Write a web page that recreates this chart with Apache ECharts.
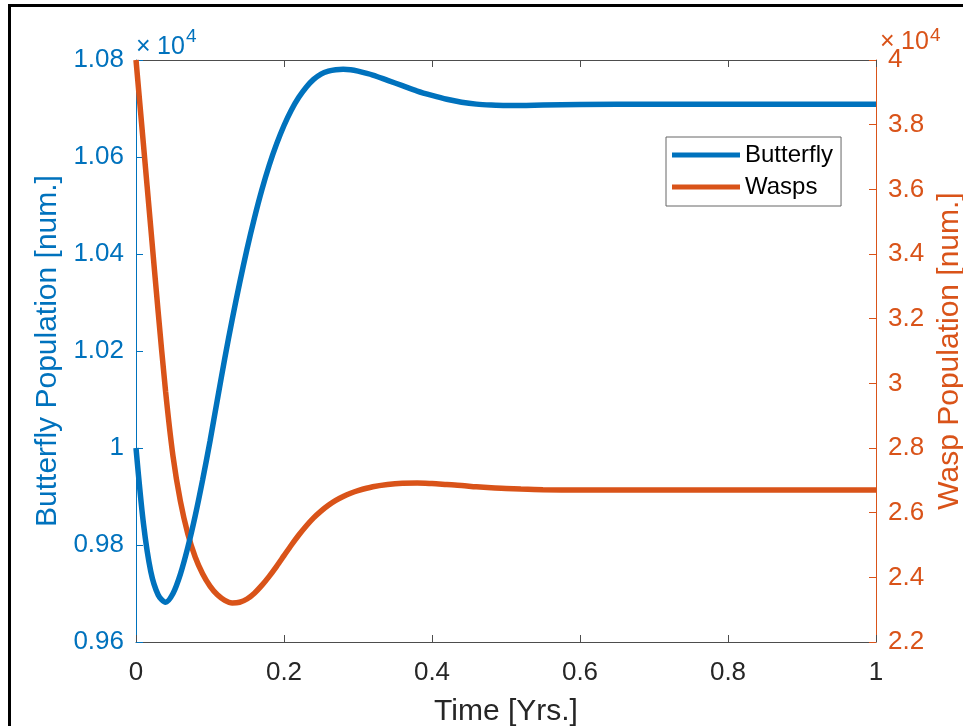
<!DOCTYPE html>
<html>
<head>
<meta charset="utf-8">
<script src="https://cdn.jsdelivr.net/npm/echarts@6/dist/echarts.min.js"></script>
<style>
    html, body { margin: 0; padding: 0; background: #fff; }
    #chart { width: 963px; height: 726px; }
</style>
</head>
<body>
<div id="chart"></div>
<script>
var timeYrs = [0, 0.01, 0.02, 0.03, 0.04, 0.05, 0.06, 0.07, 0.08, 0.09,
    0.10, 0.11, 0.12, 0.13, 0.14, 0.15, 0.16, 0.17, 0.18, 0.19,
    0.20, 0.21, 0.22, 0.23, 0.24, 0.25, 0.26, 0.27, 0.28, 0.29,
    0.30, 0.32, 0.34, 0.36, 0.38, 0.40, 0.42, 0.44, 0.46, 0.48,
    0.50, 0.52, 0.55, 0.60, 0.70, 0.80, 0.90, 1.00];
// x10^4
var butterfly = [1.0000, 0.9845, 0.9745, 0.9697, 0.9682, 0.9700, 0.9740, 0.9795, 0.9860, 0.9934,
    1.0014, 1.0100, 1.0185, 1.0265, 1.0340, 1.0410, 1.0474, 1.0532, 1.0583, 1.0627,
    1.0665, 1.0697, 1.0723, 1.0744, 1.0760, 1.0771, 1.0777, 1.0780, 1.0781, 1.0780,
    1.0777, 1.0769, 1.0758, 1.0747, 1.0736, 1.0727, 1.0719, 1.0713, 1.0709, 1.0707,
    1.0706, 1.0706, 1.0707, 1.0708, 1.0709, 1.0709, 1.0709, 1.0709];
var wasps = [4.000, 3.740, 3.480, 3.220, 2.975, 2.775, 2.635, 2.535, 2.463, 2.411,
    2.373, 2.346, 2.329, 2.321, 2.323, 2.333, 2.351, 2.375, 2.403, 2.434,
    2.467, 2.500, 2.531, 2.559, 2.584, 2.605, 2.623, 2.638, 2.650, 2.660,
    2.668, 2.680, 2.687, 2.691, 2.692, 2.690, 2.687, 2.684, 2.680, 2.677,
    2.675, 2.673, 2.671, 2.670, 2.670, 2.670, 2.670, 2.670];
var seriesNames = ['Butterfly', 'Wasps'];

var blue = '#0072BD';
var orange = '#D95319';
var font = '"Liberation Sans", Arial, sans-serif';

function pairs(xs, ys) {
    var out = [];
    for (var i = 0; i < xs.length; i++) {
        out.push([xs[i], ys[i]]);
    }
    return out;
}

var myChart = echarts.init(document.getElementById('chart'), null, {renderer: 'canvas'});

option = {
    backgroundColor: '#fff',
    animation: false,
    textStyle: {fontFamily: font},
    grid: {left: 136, top: 60, width: 740, height: 582, outerBoundsMode: 'none', containLabel: false},
    legend: {
        orient: 'vertical',
        left: 666,
        top: 137,
        data: seriesNames,
        icon: 'rect',
        itemWidth: 68,
        itemHeight: 5,
        itemGap: 8,
        padding: [6, 8, 7, 6],
        borderColor: '#666',
        borderWidth: 1,
        backgroundColor: '#fff',
        textStyle: {fontSize: 24, color: '#000', fontFamily: font}
    },
    xAxis: [
        {
            type: 'value',
            min: 0,
            max: 1,
            interval: 0.2,
            name: 'Time [Yrs.]',
            nameLocation: 'middle',
            nameGap: 55,
            nameTextStyle: {fontSize: 30, color: '#262626', fontFamily: font},
            axisLine: {onZero: false, lineStyle: {color: '#4d4d4d', width: 1}},
            axisTick: {inside: true, length: 7, lineStyle: {color: '#4d4d4d'}},
            axisLabel: {
                fontSize: 26, color: '#262626', margin: 18, fontFamily: font,
                formatter: function (v) { return +v.toFixed(1) + ''; }
            },
            splitLine: {show: false}
        },
        {
            type: 'value',
            position: 'top',
            min: 0,
            max: 1,
            interval: 0.2,
            axisLine: {onZero: false, lineStyle: {color: '#4d4d4d', width: 1}},
            axisTick: {inside: true, length: 7, lineStyle: {color: '#4d4d4d'}},
            axisLabel: {show: false},
            splitLine: {show: false}
        }
    ],
    yAxis: [
        {
            type: 'value',
            position: 'left',
            min: 0.96,
            max: 1.08,
            interval: 0.02,
            name: 'Butterfly Population [num.]',
            nameLocation: 'middle',
            nameRotate: 90,
            nameGap: 73,
            nameTextStyle: {fontSize: 30, color: blue, fontFamily: font},
            axisLine: {show: true, onZero: false, lineStyle: {color: blue, width: 1}},
            axisTick: {show: true, inside: true, length: 7, lineStyle: {color: blue}},
            axisLabel: {
                fontSize: 26, color: blue, margin: 12, fontFamily: font,
                formatter: function (v) { return +v.toFixed(2) + ''; }
            },
            splitLine: {show: false}
        },
        {
            type: 'value',
            position: 'right',
            min: 2.2,
            max: 4,
            interval: 0.2,
            name: 'Wasp Population [num.]',
            nameLocation: 'middle',
            nameRotate: 90,
            nameGap: 42,
            nameTextStyle: {fontSize: 30, color: orange, fontFamily: font},
            axisLine: {show: true, onZero: false, lineStyle: {color: orange, width: 1}},
            axisTick: {show: true, inside: true, length: 7, lineStyle: {color: orange}},
            axisLabel: {
                fontSize: 26, color: orange, margin: 12, fontFamily: font,
                formatter: function (v) { return +v.toFixed(1) + ''; }
            },
            splitLine: {show: false}
        }
    ],
    graphic: [
        {
            type: 'rect',
            silent: true,
            shape: {x: 9.5, y: 5.5, width: 1000, height: 1000},
            style: {fill: 'none', stroke: '#000', lineWidth: 3}
        },
        {type: 'text', silent: true, style: {text: '\u00d7', x: 136, y: 47, font: '25px ' + font, fill: blue, verticalAlign: 'middle'}},
        {type: 'text', silent: true, style: {text: '10', x: 157, y: 47, font: '25px ' + font, fill: blue, verticalAlign: 'middle'}},
        {type: 'text', silent: true, style: {text: '4', x: 186, y: 37, font: '19px ' + font, fill: blue, verticalAlign: 'middle'}},
        {type: 'text', silent: true, style: {text: '\u00d7', x: 880, y: 42, font: '25px ' + font, fill: orange, verticalAlign: 'middle'}},
        {type: 'text', silent: true, style: {text: '10', x: 901, y: 42, font: '25px ' + font, fill: orange, verticalAlign: 'middle'}},
        {type: 'text', silent: true, style: {text: '4', x: 930, y: 36, font: '19px ' + font, fill: orange, verticalAlign: 'middle'}}
    ],
    series: [
        {
            name: seriesNames[1],
            type: 'line',
            xAxisIndex: 0,
            yAxisIndex: 1,
            data: pairs(timeYrs, wasps),
            showSymbol: false,
            smooth: 0.3,
            z: 2,
            itemStyle: {color: orange},
            lineStyle: {color: orange, width: 5.5}
        },
        {
            name: seriesNames[0],
            type: 'line',
            xAxisIndex: 0,
            yAxisIndex: 0,
            data: pairs(timeYrs, butterfly),
            showSymbol: false,
            smooth: 0.3,
            z: 3,
            itemStyle: {color: blue},
            lineStyle: {color: blue, width: 5.5}
        }
    ]
};
myChart.setOption(option);
</script>
</body>
</html>
